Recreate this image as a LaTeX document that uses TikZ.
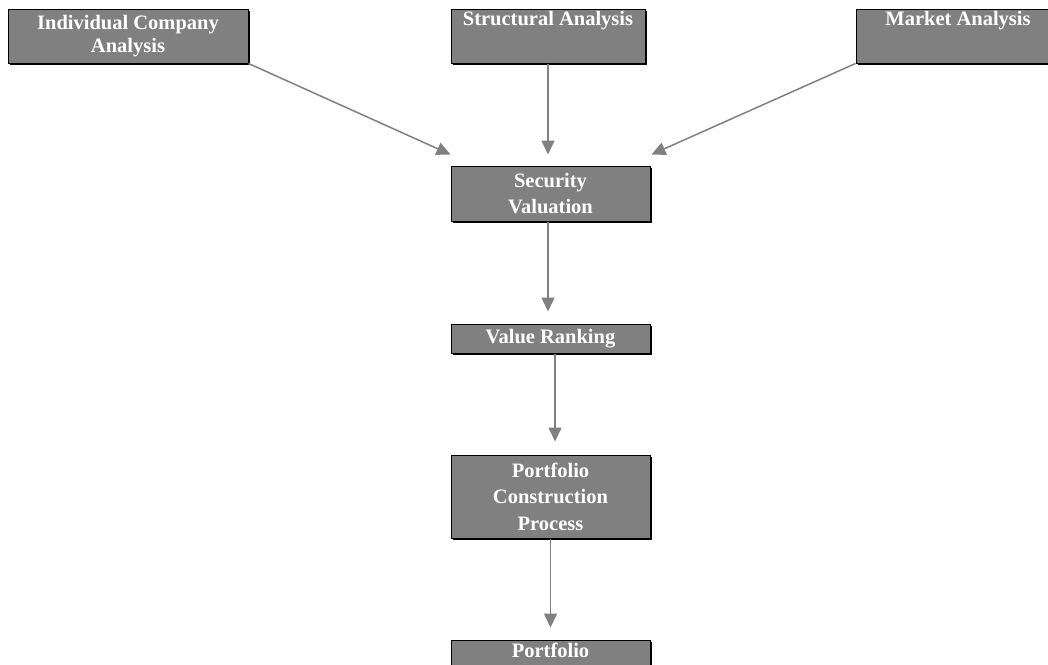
\documentclass[tikz,border=0pt]{standalone}
\usepackage{fontspec}
\setmainfont{Liberation Serif}
\usetikzlibrary{arrows.meta,shadows}
\definecolor{boxgray}{HTML}{808080}
\definecolor{arrgray}{HTML}{808080}
\begin{document}
\begin{tikzpicture}[x=1pt,y=-1pt,
  box/.style={draw=black, line width=1pt, fill=boxgray, text=white,
    font=\bfseries\fontsize{20.5}{26.5}\selectfont, align=center, inner sep=0pt,
    drop shadow={fill=black, opacity=1, shadow xshift=2pt, shadow yshift=-2pt}},
  conn/.style={draw=arrgray, line width=1.5pt, -{Triangle[width=13pt,length=14pt]}}
]
\useasboundingbox (0,0) rectangle (1048,664);
\clip (0,0) rectangle (1048,664);
\fill[white] (0,0) rectangle (1048,664);

\node[box, minimum width=240pt, minimum height=54pt, font=\bfseries\fontsize{20.5}{23}\selectfont] (ica) at (128,36) {Individual Company\\Analysis};
\node[box, minimum width=194pt, minimum height=54pt] (sa) at (548,36) {Structural Analysis\\\strut};
\node[box, minimum width=204pt, minimum height=54pt] (ma) at (958,36) {Market Analysis\\\strut};
\node[box, minimum width=199pt, minimum height=55pt] (sv) at (550.5,193.5) {Security\\Valuation};
\node[box, minimum width=199pt, minimum height=29pt] (vr) at (550.5,338.5) {Value Ranking};
\node[box, minimum width=199pt, minimum height=83pt] (pcp) at (550.5,496.5) {Portfolio\\Construction\\Process};
\node[box, minimum width=199pt, minimum height=55pt] (pf) at (550.5,667.5) {Portfolio\\\strut};

\draw[conn] (ica.south east) -- ([yshift=11pt]sv.north west);
\draw[conn, shorten >=11pt] (sa.south) -- (sa.south |- sv.north);
\draw[conn] (ma.south west) -- ([xshift=1pt,yshift=11pt]sv.north east);
\draw[conn, shorten >=12pt] ([xshift=-2.5pt]sv.south) -- ([xshift=-2.5pt]vr.north);
\draw[conn, shorten >=13pt] ([xshift=4.5pt]vr.south) -- ([xshift=4.5pt]pcp.north);
\draw[conn, shorten >=12pt] (pcp.south) -- (pf.north);
\end{tikzpicture}
\end{document}
